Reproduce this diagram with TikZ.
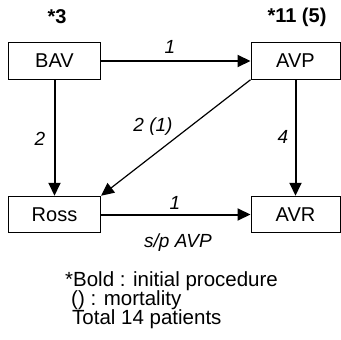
\documentclass[tikz,border=0pt]{standalone}
\usepackage{fontspec}
\setmainfont{Liberation Sans}
\usetikzlibrary{arrows.meta}
\begin{document}
\begin{tikzpicture}[x=1pt,y=-1pt,
  box/.style={draw,line width=1pt,minimum width=92pt,minimum height=36.5pt,inner sep=0pt,font=\fontsize{20}{24}\selectfont},
  arr/.style={line width=2pt,-{Triangle[length=13pt,width=12pt]}},
  darr/.style={line width=1.2pt,-{Triangle[length=13pt,width=12pt]}},
  lab/.style={font=\fontsize{19}{22}\selectfont\itshape,inner sep=0pt},
  head/.style={font=\fontsize{20}{24}\selectfont\bfseries,inner sep=0pt},
  note/.style={font=\fontsize{20.5}{24}\selectfont,inner sep=0pt,anchor=base west}]
\useasboundingbox (0,0) rectangle (341,340);
\node[box] (bav) at (54.5,61) {BAV};
\node[box,minimum width=89pt] (avp) at (295.5,61) {AVP};
\node[box] (ross) at (54.5,214.5) {Ross};
\node[box,minimum width=89pt] (avr) at (295.5,214.5) {AVR};
\node[head] (h1) at (57,17) {*3};
\node[head] (h2) at (297,17) {*11 (5)};
\draw[arr] (bav) -- (avp);
\draw[arr] (bav) -- (ross);
\draw[arr] (avp) -- (avr);
\draw[darr] (avp.south west) -- (ross.north east);
\draw[arr] (ross) -- (avr);
\node[lab] (l1) at (170,47) {1};
\node[lab] (l2) at (40,139) {2};
\node[lab] (l3) at (283,137) {4};
\node[lab] (l4) at (153,127) {2 (1)};
\node[lab] (l5) at (175,203) {1};
\node[lab] (l6) at (178,243) {s/p AVP};
\node[note] (n1) at (65,287) {*Bold : initial procedure};
\node[note] (n2) at (71,305.5) {() : mortality};
\node[note] (n3) at (72,324) {Total 14 patients};
\end{tikzpicture}
\end{document}
